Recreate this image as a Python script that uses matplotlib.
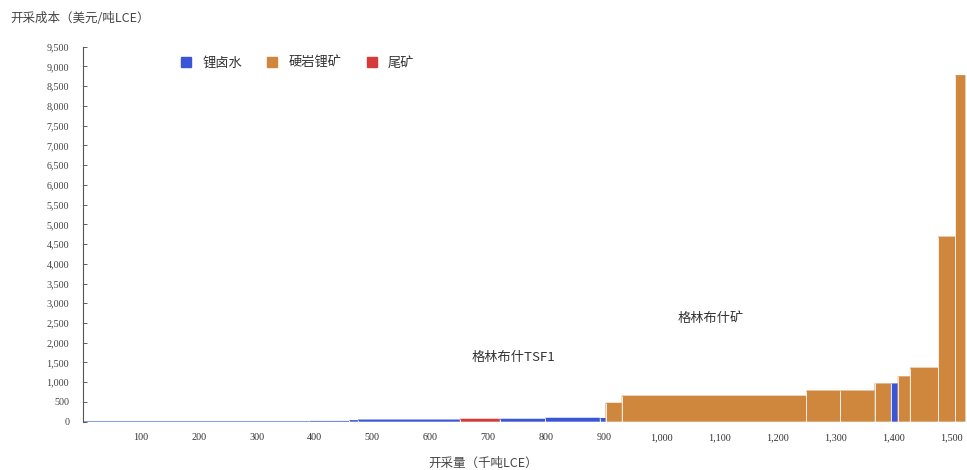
import matplotlib
matplotlib.use("Agg")
import matplotlib.pyplot as plt
from matplotlib.lines import Line2D
from matplotlib.ticker import FuncFormatter, MultipleLocator

# ---- data (cumulative supply curve) ----
bar_start = [0, 391, 460, 475, 651, 720, 799, 893, 903, 931, 1250, 1309, 1368, 1396, 1408, 1429, 1478, 1507]
bar_end   = [391, 460, 475, 651, 720, 799, 893, 903, 931, 1250, 1309, 1368, 1396, 1408, 1429, 1478, 1507, 1525]
bar_cost  = [15, 20, 40, 55, 75, 75, 100, 95, 480, 660, 790, 790, 970, 970, 1150, 1370, 4690, 8780]
bar_type  = ["锂卤水", "锂卤水", "锂卤水", "锂卤水", "尾矿", "锂卤水", "锂卤水", "锂卤水",
             "硬岩锂矿", "硬岩锂矿", "硬岩锂矿", "硬岩锂矿", "硬岩锂矿", "锂卤水",
             "硬岩锂矿", "硬岩锂矿", "硬岩锂矿", "硬岩锂矿"]
categories = ["锂卤水", "硬岩锂矿", "尾矿"]
cat_colors = {"锂卤水": "#3a56d6", "硬岩锂矿": "#cf873d", "尾矿": "#d63b3b"}

annot_text = ["格林布什TSF1", "格林布什矿"]
annot_x = [672, 1027]
annot_y = [1630, 2627]

x_ticks = [100, 200, 300, 400, 500, 600, 700, 800, 900, 1000, 1100, 1200, 1300, 1400, 1500]

title_text = "开采成本（美元/吨LCE）"
xlabel_text = "开采量（千吨LCE）"

plt.rcParams['font.family'] = ['Noto Sans CJK SC', 'DejaVu Sans']

fig = plt.figure(figsize=(9.67, 4.70), dpi=100)
ax = fig.add_axes([83.1/967, 1-421.7/470, (966-83.1)/967, (421.7-46.7)/470])

widths = [e - s for s, e in zip(bar_start, bar_end)]
colors = [cat_colors[t] for t in bar_type]
bars = ax.bar(bar_start, bar_cost, width=widths, align='edge', color=colors,
              edgecolor='none', linewidth=0)
for b in bars:
    b.set_snap(False)
# thin white separators between adjacent bars
ax.vlines(bar_start[1:], 0, bar_cost[1:], colors='white', linewidth=0.7, alpha=0.85)

ax.set_xlim(0, 1526)
ax.set_ylim(0, 9500)
ax.yaxis.set_major_locator(MultipleLocator(500))
ax.yaxis.set_major_formatter(FuncFormatter(lambda v, p: f"{int(v):,}"))
ax.set_xticks(x_ticks)
ax.xaxis.set_major_formatter(FuncFormatter(lambda v, p: f"{int(v):,}"))

for lab in ax.get_yticklabels() + ax.get_xticklabels():
    lab.set_fontfamily(['Liberation Serif'])
    lab.set_fontsize(7.3)
    lab.set_color('#333333')

ax.tick_params(axis='y', direction='in', length=3, width=0.6, pad=10, colors='#444444')
ax.tick_params(axis='x', length=0, pad=8)
for s in ['top', 'right', 'bottom']:
    ax.spines[s].set_visible(False)
ax.spines['left'].set_color('#555555')
ax.spines['left'].set_linewidth(0.8)

for t, x, y in zip(annot_text, annot_x, annot_y):
    ax.text(x, y, t, fontsize=9.5, color='#333333', ha='left', va='center',
            family=['Noto Sans CJK SC', 'DejaVu Sans'])

fig.text(10/967, 1-18/470, title_text, fontsize=9, color='#444444', ha='left', va='center')
fig.text(483/967, 1-463/470, xlabel_text, fontsize=9, color='#444444', ha='center', va='center')

handles = [Line2D([0], [0], marker='s', linestyle='none', markersize=7,
                  markerfacecolor=cat_colors[c], markeredgecolor=cat_colors[c]) for c in categories]
fig.legend(handles, categories, loc='center left', bbox_to_anchor=(168/967, 1-63/470),
           ncol=3, frameon=False, fontsize=9.5, handlelength=1.0, handletextpad=0.7,
           columnspacing=1.8, labelcolor='#333333')

fig.savefig("out.png", dpi=100, facecolor='white')
